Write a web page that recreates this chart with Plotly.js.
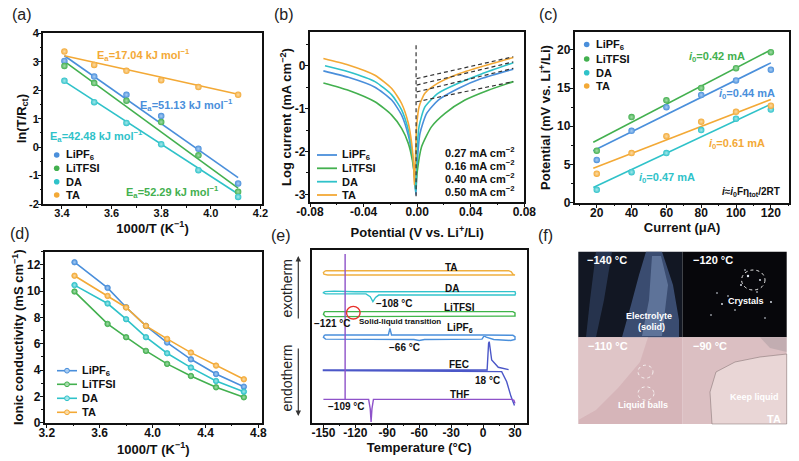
<!DOCTYPE html>
<html><head><meta charset="utf-8">
<script src="https://cdn.plot.ly/plotly-3.0.1.min.js"></script>
<style>html,body{margin:0;padding:0;background:#fff}#chart{width:799px;height:461px}</style>
</head><body><div id="chart"></div>
<script>
// ================= DATA =================
const seriesNames = ['LiPF<sub>6</sub>', 'LiTFSI', 'DA', 'TA'];
const seriesColors = ['#4a8fdb', '#43b04f', '#2fc2c9', '#f3a936'];
const seriesTints  = ['#a9cdf3', '#a6dcab', '#a6e8eb', '#fbdca6'];

// (a) Arrhenius plot
const aX       = [3.41, 3.53, 3.66, 3.80, 3.95, 4.11];
const aLiPF6   = [3.03, 2.48, 1.84, 1.09, -0.06, -1.28];
const aLiTFSI  = [2.85, 2.25, 1.63, 0.88, -0.29, -1.57];
const aDA      = [2.33, 1.58, 0.85, 0.10, -0.81, -1.75];
const aTA      = [3.36, 2.89, 2.68, 2.35, 2.11, 1.84];
const aFitX      = [3.41, 4.11];
const aFitLiPF6  = [3.21, -1.07];
const aFitLiTFSI = [3.01, -1.44];
const aFitDA     = [2.31, -1.65];
const aFitTA     = [3.21, 1.86];
const aEa = ['17.04', '51.13', '42.48', '52.29'];   // TA, LiPF6, DA, LiTFSI
const aXTicks = [3.4, 3.6, 3.8, 4.0, 4.2];
const aXTickText = ['3.4', '3.6', '3.8', '4.0', '4.2'];
const aYTicks = [-2, -1, 0, 1, 2, 3, 4];
const aYTickText = ['-2', '-1', '0', '1', '2', '3', '4'];

// (b) Tafel curves
const bLiPF6X  = [-0.070,-0.0514,-0.0315,-0.019,-0.0116,-0.0066,-0.0036,-0.0016,-0.0009,-0.0001,0.0021,0.0071,0.0158,0.0307,0.048,0.0718];
const bLiPF6Y  = [-0.12,-0.27,-0.50,-0.80,-1.15,-1.62,-2.12,-2.74,-3.01,-2.35,-1.58,-1.11,-0.80,-0.53,-0.30,-0.08];
const bLiTFSIX = [-0.070,-0.0514,-0.0315,-0.019,-0.0116,-0.0066,-0.0036,-0.0016,-0.0011,-0.0001,0.0033,0.0108,0.0208,0.0357,0.0531,0.0718];
const bLiTFSIY = [-0.40,-0.57,-0.84,-1.15,-1.46,-1.81,-2.20,-2.67,-2.90,-2.51,-1.89,-1.42,-1.11,-0.80,-0.57,-0.37];
const bDAX     = [-0.0688,-0.0514,-0.0315,-0.019,-0.0116,-0.0066,-0.0036,-0.0016,-0.0011,-0.0004,0.0014,0.0058,0.0158,0.0307,0.048,0.0718];
const bDAY     = [0.00,-0.14,-0.37,-0.68,-1.03,-1.50,-2.04,-2.67,-2.94,-2.20,-1.42,-0.96,-0.64,-0.41,-0.19,0.07];
const bTAX     = [-0.070,-0.0514,-0.0315,-0.019,-0.0116,-0.0066,-0.0041,-0.0026,-0.0021,-0.0012,-0.0004,0.0014,0.0058,0.0158,0.0307,0.048,0.0718];
const bTAY     = [0.17,0.02,-0.22,-0.53,-0.88,-1.34,-1.81,-2.35,-2.78,-2.10,-1.42,-0.96,-0.64,-0.40,-0.19,-0.02,0.19];
const bTanX = [-0.0004, 0.0718];
const bTanLiPF6 = [-0.61, -0.06];
const bTanLiTFSI = [-0.84, -0.37];
const bTanDA = [-0.45, 0.09];
const bTanTA = [-0.30, 0.21];
const bZeroX = [-0.0008, -0.0008];
const bZeroY = [0.48, -3.05];
const bI0 = ['0.27', '0.16', '0.40', '0.50'];
const bXTicks = [-0.08, -0.04, 0, 0.04, 0.08];
const bXTickText = ['-0.08', '-0.04', '0.00', '0.04', '0.08'];
const bYTicks = [-3, -2, -1, 0];
const bYTickText = ['-3', '-2', '-1', '0'];

// (c) micro-polarization
const cX       = [20, 40, 60, 80, 100, 120];
const cLiPF6   = [5.6, 9.4, 12.5, 14.1, 16.0, 17.4];
const cLiTFSI  = [6.8, 11.2, 13.4, 15.0, 17.6, 19.7];
const cDA      = [1.7, 4.0, 6.5, 9.5, 11.0, 12.2];
const cTA      = [3.8, 6.5, 8.7, 10.6, 11.9, 12.7];
const cFitX      = [18, 120];
const cFitLiPF6  = [6.8, 18.3];
const cFitLiTFSI = [7.9, 20.0];
const cFitDA     = [2.0, 12.9];
const cFitTA     = [4.5, 13.5];
const cI0 = ['0.44', '0.42', '0.47', '0.61'];
const cXTicks = [20, 40, 60, 80, 100, 120];
const cYTicks = [0, 5, 10, 15, 20];

// (d) ionic conductivity
const dX       = [3.41, 3.66, 3.80, 3.95, 4.11, 4.29, 4.48, 4.69];
const dLiPF6   = [12.2, 10.25, 8.78, 7.36, 6.09, 4.82, 3.70, 2.74];
const dLiTFSI  = [9.97, 7.51, 6.50, 5.46, 4.47, 3.55, 2.69, 1.93];
const dDA      = [10.46, 9.06, 7.87, 6.50, 5.28, 4.19, 3.17, 2.36];
const dTA      = [11.17, 9.64, 8.76, 7.36, 6.37, 5.33, 4.34, 3.30];
const dXTicks = [3.2, 3.6, 4.0, 4.4, 4.8];
const dXTickText = ['3.2', '3.6', '4.0', '4.4', '4.8'];
const dYTicks = [0, 2, 4, 6, 8, 10, 12];

// (e) DSC traces (arbitrary offset units)
const eTAX  = [-148, 24, 26.5, 28, 30, -146, -149.5, -150, -148];
const eTAY  = [8.80, 8.80, 8.74, 8.60, 8.55, 8.55, 8.60, 8.70, 8.80];
const eDAX  = [-149, -140, -120, 30, 30.5, 30, -98, -101, -103.5, -106, -110, -148, -150, -149];
const eDAY  = [7.59, 7.62, 7.58, 7.59, 7.50, 7.39, 7.39, 7.25, 7.01, 7.30, 7.46, 7.46, 7.52, 7.59];
const eLiTFSIX = [-149, 28, 30, 30, -148, -150, -149];
const eLiTFSIY = [6.43, 6.43, 6.36, 6.17, 6.14, 6.28, 6.43];
const eLiPF6X = [-149, -89, -87.5, -86, 0, 28, 30, 30, 26, 10, 3, 1, -1, -55, -60, -65, -148, -150, -149];
const eLiPF6Y = [5.08, 5.08, 5.46, 5.08, 5.08, 5.06, 4.98, 4.82, 4.76, 4.82, 4.95, 5.03, 4.84, 4.82, 4.76, 4.82, 4.84, 4.95, 5.08];
const eFECX = [24, 14.3, 8.1, 5.8, 5.2, 3.8, -150, -150, 17.5, 22.2, 26.3, 28.5, 29.5];
const eFECY = [3.07, 3.21, 3.63, 4.69, 4.60, 3.05, 3.05, 3.02, 2.96, 2.37, 1.51, 1.12, 1.00];
const eTHFX = [-150, -129.6, -129.6, -129.6, -107.5, -106, -105.2, -104.4, -103, 27, 29, 30];
const eTHFY = [1.35, 1.35, 9.77, 1.35, 1.35, 0.80, 0.05, 0.80, 1.35, 1.35, 1.30, 1.12];
const eNames = ['TA', 'DA', 'LiTFSI', 'LiPF<sub>6</sub>', 'FEC', 'THF'];
const eColors = ['#f0b040', '#32c3cc', '#3fb549', '#4a8fdb', '#4b57c8', '#8e52c9'];
const eXTicks = [-150, -120, -90, -60, -30, 0, 30];
const eXTickText = ['-150', '-120', '-90', '-60', '-30', '0', '30'];

// ================= HELPERS =================
const W = 799, H = 461;
const FONT = 'Liberation Sans, Arial, Helvetica, sans-serif';
const px = v => v / W, py = v => 1 - v / H;
const dx = (a, b) => [px(a), px(b)];
const dy = (top, bot) => [py(bot), py(top)];

function note(text, x, y, o = {}) {
  return Object.assign({
    text, x: px(x), y: py(y), xref: 'paper', yref: 'paper', showarrow: false,
    xanchor: o.xa || 'center', yanchor: 'middle',
    font: {family: FONT, size: o.size || 11, color: o.color || '#111', weight: o.weight === undefined ? 'bold' : o.weight}
  }, o.extra || {});
}
function axis(domain, range, vals, texts, anchor, mdt, m0, lstand, extra, fs) {
  return Object.assign({
    domain, range, anchor, tickmode: 'array', tickvals: vals, ticktext: texts || vals.map(String),
    showline: true, mirror: true, linewidth: 1.5, linecolor: '#111',
    ticks: 'outside', ticklen: 3.5, tickwidth: 1.3, tickcolor: '#111',
    ticklabelstandoff: lstand,
    showgrid: false, zeroline: false, fixedrange: true,
    tickfont: {family: FONT, size: fs || 12, color: '#111', weight: 'bold'},
    minor: {ticks: 'outside', ticklen: 2, tickwidth: 1, tickcolor: '#111', dtick: mdt, tick0: m0, showgrid: false}
  }, extra || {});
}
function ttl(text, standoff) {
  return {text, standoff, font: {family: FONT, size: 13, color: '#111', weight: 'bold'}};
}
function pathPx(pts, close = true) {
  return pts.map((p, i) => (i ? 'L ' : 'M ') + px(p[0]).toFixed(5) + ',' + py(p[1]).toFixed(5)).join(' ') + (close ? ' Z' : '');
}
function rectPx(x0, y0, x1, y1, fill) {
  return {type: 'rect', xref: 'paper', yref: 'paper', x0: px(x0), x1: px(x1), y0: py(y1), y1: py(y0), fillcolor: fill, line: {width: 0}, layer: 'below'};
}
function circPx(cx, cy, rx, ry, o) {
  return Object.assign({type: 'circle', xref: 'paper', yref: 'paper', x0: px(cx - rx), x1: px(cx + rx), y0: py(cy + ry), y1: py(cy - ry)}, o);
}

// ================= TRACES =================
const traces = [];
const aSeries = [aLiPF6, aLiTFSI, aDA, aTA];
const aFits = [aFitLiPF6, aFitLiTFSI, aFitDA, aFitTA];
aFits.forEach((f, i) => traces.push({x: aFitX, y: f, xaxis: 'x', yaxis: 'y', mode: 'lines', line: {color: seriesColors[i], width: 1.6}, showlegend: false, hoverinfo: 'skip'}));
aSeries.forEach((s, i) => traces.push({x: aX, y: s, xaxis: 'x', yaxis: 'y', mode: 'markers', name: seriesNames[i],
  marker: {color: seriesColors[i], size: 6.5, gradient: {type: 'radial', color: seriesTints[i]}}, showlegend: false}));

const bX = [bLiPF6X, bLiTFSIX, bDAX, bTAX], bY = [bLiPF6Y, bLiTFSIY, bDAY, bTAY];
const bTan = [bTanLiPF6, bTanLiTFSI, bTanDA, bTanTA];
bX.forEach((xx, i) => traces.push({x: xx, y: bY[i], xaxis: 'x2', yaxis: 'y2', mode: 'lines', name: seriesNames[i],
  line: {color: seriesColors[i], width: 1.6, shape: 'spline', smoothing: 0.6}, showlegend: false}));
bTan.forEach(t => traces.push({x: bTanX, y: t, xaxis: 'x2', yaxis: 'y2', mode: 'lines', line: {color: '#333', width: 1.2, dash: '4px,3px'}, showlegend: false, hoverinfo: 'skip'}));
traces.push({x: bZeroX, y: bZeroY, xaxis: 'x2', yaxis: 'y2', mode: 'lines', line: {color: '#333', width: 1.2, dash: '4px,3px'}, showlegend: false, hoverinfo: 'skip'});

const cSeries = [cLiPF6, cLiTFSI, cDA, cTA];
const cFits = [cFitLiPF6, cFitLiTFSI, cFitDA, cFitTA];
cFits.forEach((f, i) => traces.push({x: cFitX, y: f, xaxis: 'x3', yaxis: 'y3', mode: 'lines', line: {color: seriesColors[i], width: 1.6}, showlegend: false, hoverinfo: 'skip'}));
cSeries.forEach((s, i) => traces.push({x: cX, y: s, xaxis: 'x3', yaxis: 'y3', mode: 'markers', name: seriesNames[i],
  marker: {color: seriesColors[i], size: 6.5, gradient: {type: 'radial', color: seriesTints[i]}}, showlegend: false}));

const dSeries = [dLiPF6, dLiTFSI, dDA, dTA];
dSeries.forEach((s, i) => traces.push({x: dX, y: s, xaxis: 'x4', yaxis: 'y4', mode: 'lines+markers', name: seriesNames[i],
  line: {color: seriesColors[i], width: 1.6},
  marker: {color: seriesColors[i], size: 5.5, gradient: {type: 'radial', color: seriesTints[i]}, line: {color: seriesColors[i], width: 0.8}}, showlegend: false}));

const eX = [eTAX, eDAX, eLiTFSIX, eLiPF6X, eFECX, eTHFX];
const eY = [eTAY, eDAY, eLiTFSIY, eLiPF6Y, eFECY, eTHFY];
eX.forEach((xx, i) => traces.push({x: xx, y: eY[i], xaxis: 'x5', yaxis: 'y5', mode: 'lines', name: eNames[i],
  line: {color: eColors[i], width: 1.4}, showlegend: false}));

// ================= ANNOTATIONS =================
const ann = [];
[['(a)', 21.7, 15], ['(b)', 284, 15], ['(c)', 548, 15], ['(d)', 20, 233], ['(e)', 281, 235], ['(f)', 545, 235]]
  .forEach(p => ann.push(note(p[0], p[1], p[2], {size: 16, weight: 'normal', color: '#222'})));

const ea = t => 'E<sub>a</sub>=' + t + ' kJ mol<sup>−1</sup>';
ann.push(note(ea(aEa[0]), 95, 55, {xa: 'left', color: seriesColors[3]}));
ann.push(note(ea(aEa[1]), 138, 105, {xa: 'left', color: seriesColors[0]}));
ann.push(note(ea(aEa[2]), 48, 136, {xa: 'left', color: seriesColors[2]}));
ann.push(note(ea(aEa[3]), 124, 192, {xa: 'left', color: seriesColors[1]}));

[152, 164.5, 178, 191.5].forEach((yy, i) => ann.push(note(bI0[i] + ' mA cm<sup>−2</sup>', 517, yy, {xa: 'right'})));

ann.push(note('<i>i</i><sub>0</sub>=' + cI0[1] + ' mA', 687, 57, {xa: 'left', color: seriesColors[1]}));
ann.push(note('<i>i</i><sub>0</sub>=' + cI0[0] + ' mA', 717, 94, {xa: 'left', color: seriesColors[0]}));
ann.push(note('<i>i</i><sub>0</sub>=' + cI0[3] + ' mA', 707, 144, {xa: 'left', color: seriesColors[3]}));
ann.push(note('<i>i</i><sub>0</sub>=' + cI0[2] + ' mA', 637, 178, {xa: 'left', color: seriesColors[2]}));
ann.push(note('<i>i</i>≈<i>i</i><sub>0</sub>Fη<sub>tot</sub>/2RT', 782, 192, {xa: 'right', size: 10}));

const shp = [];
const legRowsA = [155, 168.3, 181.7, 195];
const legRowsB = [155, 168.3, 181.7, 195];
const legRowsC = [44.5, 59, 72.7, 86];
const legRowsD = [370.7, 384.3, 398.3, 412.3];
seriesNames.forEach((n, i) => {
  shp.push(circPx(56.7, legRowsA[i], 2.8, 2.8, {fillcolor: seriesColors[i], line: {width: 0}}));
  ann.push(note(n, 63.5, legRowsA[i], {xa: 'left'}));
  shp.push({type: 'line', xref: 'paper', yref: 'paper', x0: px(317), x1: px(337), y0: py(legRowsB[i]), y1: py(legRowsB[i]), line: {color: seriesColors[i], width: 1.8}});
  ann.push(note(n, 340, legRowsB[i], {xa: 'left'}));
  shp.push(circPx(586.7, legRowsC[i], 2.8, 2.8, {fillcolor: seriesColors[i], line: {width: 0}}));
  ann.push(note(n, 593.5, legRowsC[i], {xa: 'left'}));
  shp.push({type: 'line', xref: 'paper', yref: 'paper', x0: px(57), x1: px(77), y0: py(legRowsD[i]), y1: py(legRowsD[i]), line: {color: seriesColors[i], width: 1.6}});
  shp.push(circPx(67, legRowsD[i], 2.4, 2.4, {fillcolor: seriesTints[i], line: {color: seriesColors[i], width: 1}}));
  ann.push(note(n, 80, legRowsD[i], {xa: 'left'}));
});

[['TA', 451, 267.5], ['DA', 452, 288], ['LiTFSI', 459, 307.5], ['LiPF<sub>6</sub>', 460, 327.5], ['FEC', 459, 364], ['THF', 459, 394.5]]
  .forEach(l => ann.push(note(l[0], l[1], l[2], {size: 10})));
ann.push(note('−108 °C', 394, 303.5, {size: 10}));
ann.push(note('−121 °C', 332, 323.5, {size: 10}));
ann.push(note('Solid-liquid transition', 400, 321.5, {size: 8}));
ann.push(note('−66 °C', 404, 347.5, {size: 10}));
ann.push(note('18 °C', 487, 380, {size: 10}));
ann.push(note('−109 °C', 346, 406.5, {size: 10}));
ann.push(note('exotherm', 286.5, 289, {size: 14, weight: 'normal', color: '#222', extra: {textangle: -90}}));
ann.push(note('endotherm', 286.5, 378, {size: 14, weight: 'normal', color: '#222', extra: {textangle: -90}}));
ann.push({x: px(298.3), y: py(256), xref: 'paper', yref: 'paper', ax: 0, ay: 64, text: '', showarrow: true, arrowhead: 2, arrowsize: 0.9, arrowwidth: 1.2, arrowcolor: '#333'});
ann.push({x: px(298.3), y: py(416), xref: 'paper', yref: 'paper', ax: 0, ay: -69, text: '', showarrow: true, arrowhead: 2, arrowsize: 0.9, arrowwidth: 1.2, arrowcolor: '#333'});
shp.push(circPx(353.3, 312.7, 6.8, 6.3, {line: {color: '#e8302a', width: 1.4}}));

// (f) micrograph panel (drawn as shapes)
shp.push(rectPx(578.3, 251.7, 682.7, 337.3, '#121723'));
shp.push(rectPx(682.7, 251.7, 786.7, 337.3, '#07070b'));
shp.push(rectPx(578.3, 337.3, 682.7, 424, '#d6b5b9'));
shp.push(rectPx(682.7, 337.3, 786.7, 424, '#dbbfc2'));
shp.push({type: 'path', xref: 'paper', yref: 'paper', path: pathPx([[596, 251.7], [612, 251.7], [604, 300], [596, 337.3], [586, 337.3], [590, 300]]), fillcolor: 'rgba(70,95,140,0.4)', line: {width: 0}});
shp.push({type: 'path', xref: 'paper', yref: 'paper', path: pathPx([[646, 251.7], [662, 251.7], [673, 285], [679, 320], [679, 337.3], [622, 337.3], [631, 305], [639, 275]]), fillcolor: 'rgba(75,100,145,0.7)', line: {width: 0}});
shp.push({type: 'path', xref: 'paper', yref: 'paper', path: pathPx([[652, 256], [661, 256], [668, 285], [662, 336], [642, 336], [649, 300]]), fillcolor: 'rgba(140,165,205,0.45)', line: {width: 0}});
shp.push({type: 'path', xref: 'paper', yref: 'paper', path: pathPx([[578.3, 337.3], [648, 337.3], [640, 362], [618, 388], [596, 410], [578.3, 420]]), fillcolor: 'rgba(232,210,212,0.55)', line: {width: 0}});
shp.push({type: 'path', xref: 'paper', yref: 'paper', path: pathPx([[712, 424], [710, 392], [716, 372], [735, 362], [760, 357], [786.7, 354], [786.7, 424]]), fillcolor: '#e9d6d6', line: {color: 'rgba(110,95,95,0.45)', width: 1}});
shp.push({type: 'path', xref: 'paper', yref: 'paper', path: pathPx([[760, 337.3], [786.7, 337.3], [786.7, 352], [770, 348]]), fillcolor: 'rgba(150,140,145,0.35)', line: {width: 0}});
[[748, 276, 1.2], [741, 285, 0.9], [760, 280, 0.9], [722, 304, 0.9], [771, 302, 0.9], [711, 315, 0.8], [728, 296, 0.8], [757, 292, 0.8], [717, 293, 0.8], [765, 318, 0.8], [745, 270, 0.8], [735, 310, 0.8]]
  .forEach(d => shp.push(circPx(d[0], d[1], d[2], d[2], {fillcolor: '#e8eef8', line: {width: 0}})));
shp.push(circPx(753.3, 280, 11.7, 10, {line: {color: '#e8e8e8', width: 1, dash: 'dot'}}));
shp.push(circPx(645.5, 371.7, 7.5, 6.5, {line: {color: '#f6f0f0', width: 1, dash: 'dot'}}));
shp.push(circPx(646, 393.5, 8, 6.7, {line: {color: '#f6f0f0', width: 1, dash: 'dot'}}));
const fw = {color: '#ffffff'};
ann.push(note('−140 °C', 585, 260, Object.assign({xa: 'left', size: 11}, fw)));
ann.push(note('−120 °C', 691, 260, Object.assign({xa: 'left', size: 11}, fw)));
ann.push(note('Electrolyte', 648.5, 315.7, Object.assign({size: 9}, fw)));
ann.push(note('(solid)', 651.5, 326.7, Object.assign({size: 9}, fw)));
ann.push(note('Crystals', 746, 300.7, Object.assign({size: 9}, fw)));
ann.push(note('−110 °C', 586, 346, Object.assign({xa: 'left', size: 11}, fw)));
ann.push(note('−90 °C', 691, 346, Object.assign({xa: 'left', size: 11}, fw)));
ann.push(note('Liquid balls', 642.7, 405, Object.assign({size: 9}, fw)));
ann.push(note('Keep liquid', 754.3, 396.7, Object.assign({size: 9}, fw)));
ann.push(note('TA', 774.3, 419, Object.assign({size: 11}, fw)));

// ================= LAYOUT =================
const layout = {
  width: W, height: H, margin: {l: 0, r: 0, t: 0, b: 0}, paper_bgcolor: '#fff', plot_bgcolor: 'rgba(0,0,0,0)',
  showlegend: false, font: {family: FONT, color: '#111', size: 12},
  xaxis:  axis(dx(43.3, 261.7), [3.325, 4.205], aXTicks, aXTickText, 'y', 0.1, 3.4, -5, {title: ttl('1000/T (K<sup>−1</sup>)', 0)}, 11),
  yaxis:  axis(dy(33.3, 204), [-2, 4], aYTicks, aYTickText, 'x', 0.5, 0, -3, {title: ttl('ln(T/R<sub>ct</sub>)', 0)}, 11),
  xaxis2: axis(dx(310, 524.3), [-0.08, 0.08], bXTicks, bXTickText, 'y2', 0.02, 0, -5, {title: ttl('Potential (V vs. Li<sup>+</sup>/Li)', 10)}),
  yaxis2: axis(dy(32.3, 201.7), [-3.17, 0.78], bYTicks, bYTickText, 'x2', 0.5, 0, -3, {title: ttl('Log current (mA cm<sup>−2</sup>)', 0)}),
  xaxis3: axis(dx(575, 789.3), [7.5, 130.6], cXTicks, null, 'y3', 10, 0, -5, {title: ttl('Current (μA)', 3)}),
  yaxis3: axis(dy(32.3, 202.7), [0, 22.3], cYTicks, null, 'x3', 2.5, 0, -3, {title: ttl('Potential (mV vs. Li<sup>+</sup>/Li)', 3)}),
  xaxis4: axis(dx(45, 261.7), [3.187, 4.825], dXTicks, dXTickText, 'y4', 0.2, 3.2, -5, {title: ttl('1000/T (K<sup>−1</sup>)', 3)}),
  yaxis4: axis(dy(251.7, 422.7), [0, 13], dYTicks, null, 'x4', 1, 0, -3, {title: ttl('Ionic conductivity (mS cm<sup>−1</sup>)', 0)}),
  xaxis5: axis(dx(311.7, 526.7), [-161, 41], eXTicks, eXTickText, 'y5', 15, 0, -5, {title: ttl('Temperature (°C)', 2)}),
  yaxis5: axis(dy(250, 422.7), [0, 10], [], [], 'x5', 1, 0, 0, {ticks: '', showticklabels: false, minor: {ticks: ''}}),
  annotations: ann,
  shapes: shp
};

Plotly.newPlot('chart', traces, layout, {displayModeBar: false});
</script>
</body></html>
